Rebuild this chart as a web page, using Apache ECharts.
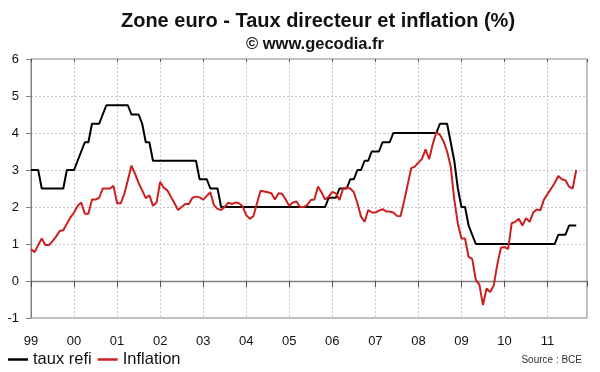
<!DOCTYPE html>
<html><head><meta charset="utf-8">
<script src="https://cdn.jsdelivr.net/npm/echarts@6/dist/echarts.min.js"></script>
<style>html,body{margin:0;padding:0;background:#fff}#c{width:600px;height:372px}</style>
</head><body><div id="c"></div>
<script>
const tickLabels = ['99','00','01','02','03','04','05','06','07','08','09','10','11'];
const seriesNames = ['taux refi', 'Inflation'];
// monthly values, Jan 1999 .. Sep 2011
const tauxRefi = [
  3,3,3,2.5,2.5,2.5,2.5,2.5,2.5,2.5,3,3,
  3,3.25,3.5,3.75,3.75,4.25,4.25,4.25,4.5,4.75,4.75,4.75,
  4.75,4.75,4.75,4.75,4.5,4.5,4.5,4.25,3.75,3.75,3.25,3.25,
  3.25,3.25,3.25,3.25,3.25,3.25,3.25,3.25,3.25,3.25,3.25,2.75,
  2.75,2.75,2.5,2.5,2.5,2,2,2,2,2,2,2,
  2,2,2,2,2,2,2,2,2,2,2,2,
  2,2,2,2,2,2,2,2,2,2,2,2.25,
  2.25,2.25,2.5,2.5,2.5,2.75,2.75,3,3,3.25,3.25,3.5,
  3.5,3.5,3.75,3.75,3.75,4,4,4,4,4,4,4,
  4,4,4,4,4,4,4.25,4.25,4.25,3.75,3.25,2.5,
  2,2,1.5,1.25,1,1,1,1,1,1,1,1,
  1,1,1,1,1,1,1,1,1,1,1,1,
  1,1,1,1.25,1.25,1.25,1.5,1.5,1.5
];
const inflation = [
  0.86,0.78,0.97,1.15,0.97,0.97,1.08,1.2,1.35,1.37,1.55,1.72,
  1.85,2.03,2.12,1.82,1.82,2.2,2.2,2.25,2.5,2.5,2.5,2.57,
  2.1,2.1,2.35,2.72,3.12,2.9,2.65,2.45,2.24,2.32,2.03,2.12,
  2.68,2.52,2.45,2.28,2.1,1.92,2.0,2.08,2.08,2.25,2.28,2.26,
  2.2,2.3,2.4,2.05,1.95,1.92,2.0,2.12,2.08,2.12,2.1,2.02,
  1.78,1.68,1.75,2.1,2.44,2.42,2.4,2.37,2.2,2.37,2.36,2.2,
  2.03,2.12,2.15,2.0,2.0,2.05,2.19,2.2,2.55,2.4,2.2,2.28,
  2.41,2.37,2.19,2.5,2.52,2.5,2.4,2.1,1.74,1.6,1.92,1.85,
  1.85,1.9,1.94,1.88,1.88,1.85,1.76,1.75,2.15,2.6,3.05,3.09,
  3.2,3.3,3.56,3.29,3.7,4.02,3.95,3.78,3.5,3.1,2.2,1.55,
  1.15,1.15,0.65,0.6,0.03,-0.1,-0.65,-0.2,-0.3,-0.12,0.45,0.9,
  0.92,0.86,1.56,1.6,1.68,1.5,1.7,1.6,1.85,1.93,1.91,2.2,
  2.35,2.5,2.65,2.84,2.75,2.72,2.55,2.5,3.0
];

const FONT = 'Liberation Sans, Arial, sans-serif';
const GRID_C = '#c8c8c8';
const AXIS_C = '#808080';
const XMAX = 155;

const chart = echarts.init(document.getElementById('c'), null, {renderer: 'canvas'});
chart.setOption({
  animation: false,
  backgroundColor: '#fff',
  graphic: [
    {type: 'text', x: 318, y: 21, style: {text: 'Zone euro - Taux directeur et inflation (%)', fontFamily: FONT, fontSize: 20, fontWeight: 'bold', fill: '#111', align: 'center', verticalAlign: 'middle'}},
    {type: 'text', x: 315, y: 44, style: {text: '© www.gecodia.fr', fontFamily: FONT, fontSize: 16.5, fontWeight: 'bold', fill: '#111', align: 'center', verticalAlign: 'middle'}},
    {type: 'text', x: 582, y: 360, style: {text: 'Source : BCE', fontFamily: FONT, fontSize: 10, fill: '#333', align: 'right', verticalAlign: 'middle'}}
  ],
  legend: {
    data: seriesNames,
    left: 8, top: 351, padding: 0,
    icon: 'rect', itemWidth: 20, itemHeight: 2.5, itemGap: 6,
    textStyle: {fontFamily: FONT, fontSize: 16.5, color: '#111'}
  },
  grid: {left: 31, right: 13, top: 59, bottom: 54, show: true, borderColor: AXIS_C, borderWidth: 1, containLabel: false},
  xAxis: [
    {
      type: 'value', min: 0, max: XMAX, interval: 12,
      axisLine: {onZero: true, lineStyle: {color: AXIS_C, width: 1.3}},
      axisTick: {show: true, length: 6, lineStyle: {color: '#555'}},
      axisLabel: {show: false},
      splitLine: {show: true, lineStyle: {color: GRID_C, type: [2, 2]}}
    },
    {
      type: 'value', min: 0, max: XMAX, interval: 12,
      axisLine: {show: false, onZero: true},
      axisTick: {show: true, inside: true, length: 3, lineStyle: {color: '#555'}},
      axisLabel: {show: false},
      splitLine: {show: false}
    },
    {
      type: 'value', min: 0, max: XMAX, interval: 12, position: 'bottom',
      axisLine: {show: false, onZero: false},
      axisTick: {show: false},
      splitLine: {show: false},
      axisLabel: {
        show: true, margin: 17, fontFamily: FONT, fontSize: 13, color: '#111',
        formatter: v => (v % 12 === 0 ? (tickLabels[v / 12] || '') : '')
      }
    }
  ],
  yAxis: {
    type: 'value', min: -1, max: 6, interval: 1,
    axisLine: {show: true, onZero: false, lineStyle: {color: AXIS_C}},
    axisTick: {show: true, length: 5, lineStyle: {color: AXIS_C}},
    axisLabel: {margin: 12, fontFamily: FONT, fontSize: 13, color: '#111'},
    splitLine: {show: true, lineStyle: {color: GRID_C, type: [2, 2]}}
  },
  series: [
    {
      name: seriesNames[0], type: 'line', xAxisIndex: 0, showSymbol: false, symbol: 'none',
      color: '#000', lineStyle: {color: '#000', width: 2},
      data: tauxRefi.map((v, i) => [i, v]), z: 3
    },
    {
      name: seriesNames[1], type: 'line', xAxisIndex: 0, showSymbol: false, symbol: 'none',
      color: '#cc1f1f', lineStyle: {color: '#cc1f1f', width: 2},
      data: inflation.map((v, i) => [i, v]), z: 4
    }
  ]
});
</script>
</body></html>
